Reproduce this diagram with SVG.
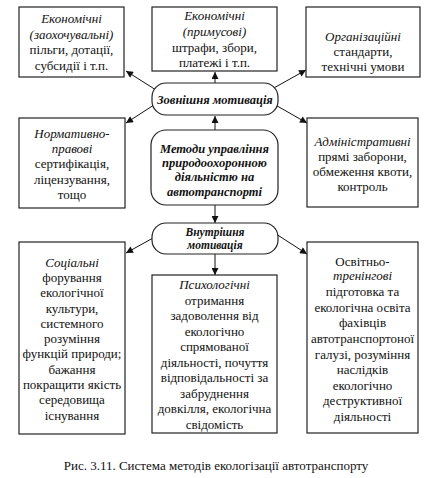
<svg xmlns="http://www.w3.org/2000/svg" width="436" height="478" viewBox="0 0 436 478" font-family="Liberation Serif, Times New Roman, serif">
<style>
.box{fill:#fff;stroke:#222;stroke-width:1.2}
text{font-family:'Liberation Serif','Times New Roman',serif;font-size:13px;fill:#111;text-anchor:middle}
.i{font-style:italic}
.bi{font-style:italic;font-weight:bold;font-size:12.5px}
.sm{font-size:11.5px}
.ln{stroke:#111;stroke-width:1;fill:none;marker-end:url(#ah)}
</style>
<defs>
<marker id="ah" viewBox="0 0 10 10" refX="10" refY="5" markerWidth="9" markerHeight="7" markerUnits="userSpaceOnUse" orient="auto">
<path d="M0,0 L10,5 L0,10 z" fill="#111"/>
</marker>
</defs>
<rect width="436" height="478" fill="#fff"/>
<g id="connectors">
<line class="ln" x1="156" y1="90" x2="126" y2="71"/>
<line class="ln" x1="215" y1="83" x2="215" y2="72"/>
<line class="ln" x1="272" y1="89" x2="306" y2="70"/>
<line class="ln" x1="157" y1="103" x2="126" y2="123"/>
<line class="ln" x1="272" y1="103" x2="307" y2="123"/>
<line class="ln" x1="215" y1="130" x2="215" y2="116"/>
<line class="ln" x1="215" y1="205" x2="215" y2="223"/>
<line class="ln" x1="153" y1="238" x2="126" y2="253"/>
<line class="ln" x1="215" y1="254" x2="215" y2="275"/>
<line class="ln" x1="273" y1="232" x2="307" y2="254"/>
</g>
<g id="econ-incentive">
<rect class="box" x="19" y="7" width="105" height="70"/>
<text class="i" x="71.5" y="23">Економічні</text>
<text class="i" x="71.5" y="38.5">(заохочувальні)</text>
<text x="71.5" y="54">пільги, дотації,</text>
<text x="71.5" y="69.5">субсидії і т.п.</text>
</g>
<g id="econ-coercive">
<rect class="box" x="152" y="7" width="125" height="64"/>
<text class="i" x="214.5" y="20">Економічні</text>
<text class="i" x="214.5" y="36">(примусові)</text>
<text x="214.5" y="52">штрафи, збори,</text>
<text x="214.5" y="67">платежі і т.п.</text>
</g>
<g id="organizational">
<rect class="box" x="306" y="7" width="114" height="70"/>
<text class="i" x="363" y="41">Організаційні</text>
<text x="363" y="56">стандарти,</text>
<text x="363" y="71">технічні умови</text>
</g>
<g id="external">
<rect class="box" x="152" y="83" width="126" height="32" rx="14"/>
<text class="bi" x="215" y="103.5">Зовнішня мотивація</text>
</g>
<g id="normative">
<rect class="box" x="19" y="118" width="106" height="90"/>
<text class="i" x="72" y="137.5">Нормативно-</text>
<text class="i" x="72" y="153">правові</text>
<text x="72" y="168">сертифікація,</text>
<text x="72" y="183.5">ліцензування,</text>
<text x="72" y="199">тощо</text>
</g>
<g id="methods">
<rect class="box" x="151" y="130" width="127" height="75" rx="15"/>
<text class="bi" x="214.5" y="152.5">Методи управління</text>
<text class="bi" x="214.5" y="166.5">природоохоронною</text>
<text class="bi" x="214.5" y="181">діяльністю на</text>
<text class="bi" x="214.5" y="195.5">автотранспорті</text>
</g>
<g id="administrative">
<rect class="box" x="307" y="118" width="111" height="89"/>
<text class="i" x="362.5" y="145.5">Адміністративні</text>
<text x="362.5" y="160.5">прямі заборони,</text>
<text x="362.5" y="175.5">обмеження квоти,</text>
<text x="362.5" y="190.5">контроль</text>
</g>
<g id="internal">
<rect class="box" x="152" y="223" width="126" height="31" rx="14"/>
<text class="bi sm" x="215" y="235.5">Внутрішня</text>
<text class="bi sm" x="215" y="249">мотивація</text>
</g>
<g id="social">
<rect class="box" x="19" y="242" width="106" height="192"/>
<text class="i" x="72" y="266.5">Соціальні</text>
<text x="72" y="281.5">форування</text>
<text x="72" y="297">екологічної</text>
<text x="72" y="312.5">культури,</text>
<text x="72" y="328">системного</text>
<text x="72" y="343">розуміння</text>
<text x="72" y="358">функцій природи;</text>
<text x="72" y="373.5">бажання</text>
<text x="72" y="388.5">покращити якість</text>
<text x="72" y="404">середовища</text>
<text x="72" y="419.5">існування</text>
</g>
<g id="psychological">
<rect class="box" x="152" y="275" width="125" height="158"/>
<text class="i" x="214.5" y="289">Психологічні</text>
<text x="214.5" y="304.5">отримання</text>
<text x="214.5" y="320">задоволення від</text>
<text x="214.5" y="335.5">екологічно</text>
<text x="214.5" y="351">спрямованої</text>
<text x="214.5" y="366.5">діяльності, почуття</text>
<text x="214.5" y="382">відповідальності за</text>
<text x="214.5" y="397.5">забруднення</text>
<text x="214.5" y="413">довкілля, екологічна</text>
<text x="214.5" y="428.5">свідомість</text>
</g>
<g id="educational">
<rect class="box" x="307" y="242" width="111" height="191"/>
<text x="362.5" y="265.5">Освітньо-</text>
<text class="i" x="362.5" y="280">тренінгові</text>
<text x="362.5" y="296">підготовка та</text>
<text x="362.5" y="311.5">екологічна освіта</text>
<text x="362.5" y="327">фахівців</text>
<text x="362.5" y="343">автотранспортоної</text>
<text x="362.5" y="358.5">галузі, розуміння</text>
<text x="362.5" y="374">наслідків</text>
<text x="362.5" y="389.5">екологічно</text>
<text x="362.5" y="405">деструктивної</text>
<text x="362.5" y="420.5">діяльності</text>
</g>
<text x="216" y="469.5">Рис. 3.11. Система методів екологізації автотранспорту</text>
</svg>
